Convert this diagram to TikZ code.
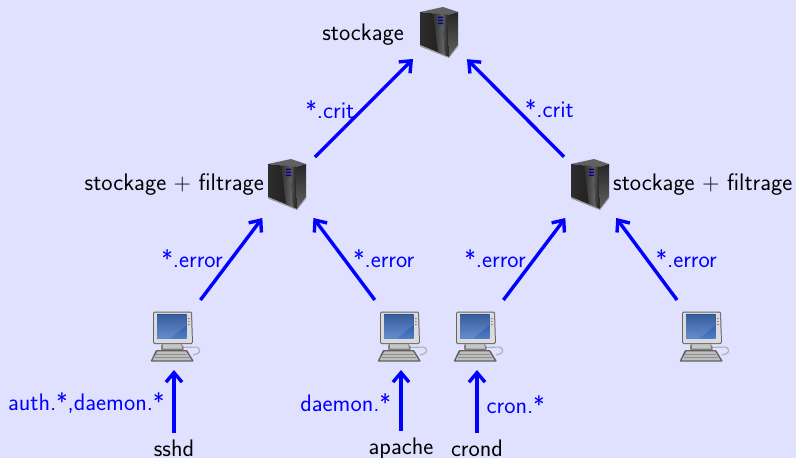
\documentclass[tikz,border=0pt]{standalone}
\usetikzlibrary{arrows.meta}
\renewcommand{\familydefault}{\sfdefault}
\definecolor{bg}{RGB}{224,224,255}
\definecolor{lnk}{RGB}{0,0,255}
\definecolor{scrA}{RGB}{30,72,145}
\definecolor{scrB}{RGB}{80,125,200}
\tikzset{
  x=1pt,y=-1pt,
  txt/.style={font=\fontsize{23.9}{26}\selectfont\sffamily,inner sep=0pt,text=black},
  lbl/.style={txt,text=lnk},
  lk/.style={draw=lnk,line width=3.4pt,-{Straight Barb[length=9.5pt,width=16pt,line width=3.4pt]}},
  srclk/.style={lk,shorten <=6.5pt},
  srvbox/.style={minimum width=54pt,minimum height=68pt,inner sep=0pt,outer sep=0pt},
  pcbox/.style={minimum width=54pt,minimum height=70pt,inner sep=0pt,outer sep=0pt},
  src/.style={txt,anchor=base},
  pics/server/.style={code={
    % top
    \fill[black!62] (-20,-20) -- (3,-25) -- (18,-20) -- (8,-17) -- cycle;
    % front
    \shade[left color=black!82,right color=black!90] (-20,-20) -- (8,-17) -- (9,25) -- (-20,13) -- cycle;
    % streak
    \shade[left color=black!82,right color=black!58] (-7,-18.6) -- (2,-17.8) -- (5,23.4) -- (-2,20) -- cycle;
    \shade[left color=black!62,right color=black!90] (2,-17.8) -- (8,-17) -- (9,25) -- (5,23.4) -- cycle;
    % side
    \shade[top color=black!85,bottom color=black!62] (8,-17) -- (18,-20) -- (18,13) -- (9,25) -- cycle;
    % base rim
    \fill[black!40] (-20,13) -- (9,25) -- (18,13) -- (18,14.5) -- (9,26) -- (-20,14.5) -- cycle;
    % leds
    \fill[blue!60!black] (-2,-15.5) rectangle (3,-14) (-2,-12.5) rectangle (3,-11) (-2,-9.5) rectangle (3,-8);
  }},
  pics/pc/.style={code={
    % cable
    \draw[black!30,line width=1.2pt,rounded corners=3pt] (6,12.5) -- (25,12) -- (26,18) -- (19,20);
    % stand
    \fill[black!50,rounded corners=2pt] (-13,9) -- (9,9) -- (10,15.5) -- (-13,15.5) -- cycle;
    \fill[black!22] (-11,9) -- (7,9) -- (8,13.5) -- (-11,13.5) -- cycle;
    % monitor
    \fill[black!60,rounded corners=1.5pt] (-21,-23.5) -- (18,-23.5) -- (19,9) -- (-21,9) -- cycle;
    \fill[black!14,rounded corners=1pt] (-20,-22.5) -- (17,-22.5) -- (18,8) -- (-20,8) -- cycle;
    \shade[top color=scrA,bottom color=scrB] (-17,-20.5) rectangle (12.5,3.5);
    \fill[white,opacity=.12] (-17,3.5) -- (-4,3.5) -- (12.5,-10) -- (12.5,-20.5) -- (-17,-20.5) -- cycle;
    \fill[black!50] (14,-17) rectangle (15.5,-15.8) (14,-14) rectangle (15.5,-12.8) (14,-11) rectangle (15.5,-9.8);
    % keyboard
    \fill[black!62,rounded corners=.8pt] (-23.5,26.5) -- (-18,15) -- (13,15) -- (20,26.5) -- cycle;
    \fill[black!25] (-21.5,25.3) -- (-16.5,16.3) -- (12,16.3) -- (17.5,25.3) -- cycle;
    \draw[black!45,line width=.6pt] (-18,19) -- (13,19) (-19,22) -- (15,22);
  }}
}
\begin{document}
\begin{tikzpicture}
\useasboundingbox[fill=bg] (0,0) rectangle (796,458);
% nodes
\node[srvbox] (top) at (440,32) {};
\node[srvbox] (s1) at (288,184) {};
\node[srvbox] (s2) at (591,184) {};
\node[pcbox] (p1) at (174,335) {};
\node[pcbox] (p2) at (401,335) {};
\node[pcbox] (p3) at (477,335) {};
\node[pcbox] (p4) at (703,335) {};
\foreach \n in {top,s1,s2} \pic at (\n) {server};
\foreach \n in {p1,p2,p3,p4} \pic at (\n) {pc};
\node[txt,anchor=east] (ttop) at (404,35) {stockage};
\node[txt,anchor=east] (ts1) at (264,185) {stockage + filtrage};
\node[txt,anchor=west] (ts2) at (613,185) {stockage + filtrage};
\node[src] (d1) at (174,456) {sshd};
\node[src] (d2) at (401,454) {apache};
\node[src] (d3) at (477,456) {crond};
% connectors
\draw[lk] (s1) -- node[lbl,anchor=east,xshift=-8pt,yshift=-2pt] {*.crit} (top);
\draw[lk] (s2) -- node[lbl,anchor=west,xshift=8pt,yshift=-1pt] {*.crit} (top);
\draw[lk] (p1) -- node[lbl,anchor=east,xshift=-7pt] {*.error} (s1);
\draw[lk] (p2) -- node[lbl,anchor=west,xshift=7.5pt] {*.error} (s1);
\draw[lk] (p3) -- node[lbl,anchor=east,xshift=-7pt] {*.error} (s2);
\draw[lk] (p4) -- node[lbl,anchor=west,xshift=7.5pt] {*.error} (s2);
\draw[srclk] (d1) -- node[lbl,anchor=east,xshift=-8pt,yshift=2pt] {auth.*,daemon.*} (p1);
\draw[srclk] (d2) -- node[lbl,anchor=east,xshift=-8.5pt,yshift=1pt] {daemon.*} (p2);
\draw[srclk] (d3) -- node[lbl,anchor=west,xshift=8pt] {cron.*} (p3);
\end{tikzpicture}
\end{document}
